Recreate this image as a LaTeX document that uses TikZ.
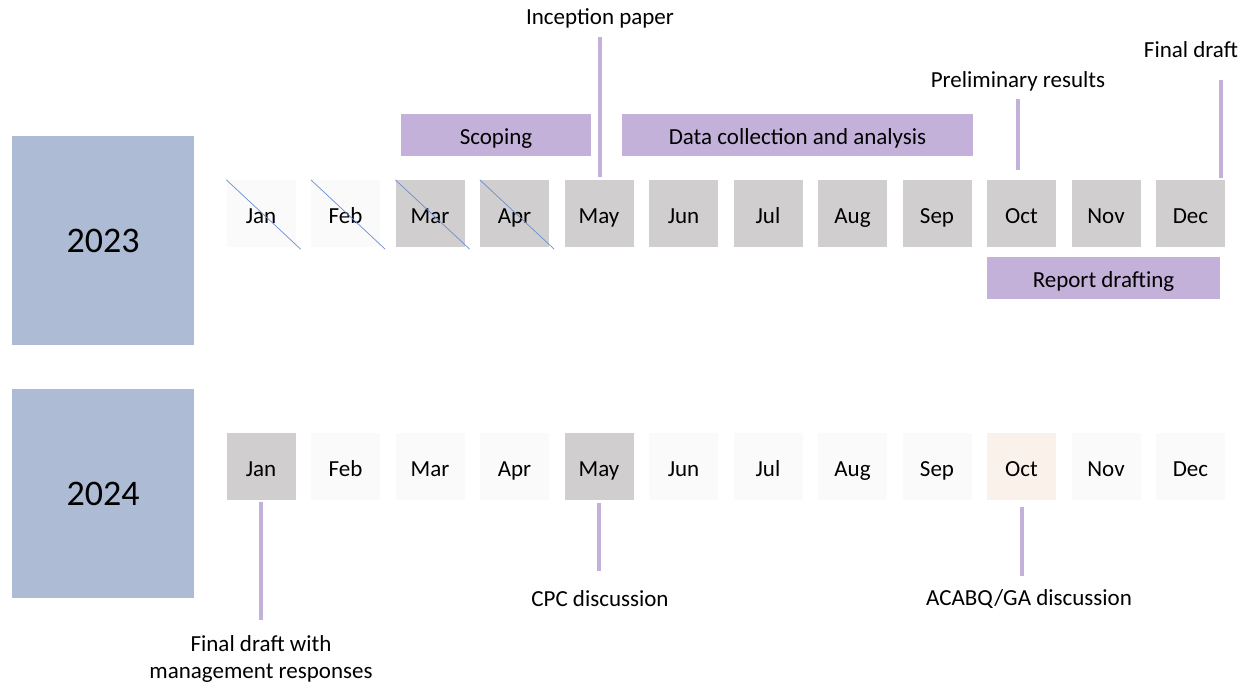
\documentclass[tikz,border=0pt]{standalone}
\usepackage{fontspec}
\setmainfont{Carlito}
\usetikzlibrary{positioning}
\definecolor{yearblue}{HTML}{ADBCD4}
\definecolor{monthgrey}{HTML}{D0CECE}
\definecolor{monthpale}{HTML}{FAFAFA}
\definecolor{monthpeach}{HTML}{FBF1EB}
\definecolor{phase}{HTML}{C3B1D9}
\definecolor{strikeblue}{HTML}{4472C4}
\tikzset{
  yearbox/.style={fill=yearblue,minimum width=182pt,minimum height=209pt,inner sep=0pt,font=\fontsize{36}{40}\selectfont},
  monthbox/.style={minimum width=69pt,minimum height=67pt,inner sep=0pt,text height=21pt,text depth=2pt,font=\fontsize{23}{26}\selectfont},
  phasebox/.style={fill=phase,minimum height=42pt,inner sep=0pt,text height=21pt,text depth=2pt,font=\fontsize{23}{26}\selectfont},
  eventtext/.style={inner sep=0pt,align=center,font=\fontsize{23}{27}\selectfont},
  eventline/.style={draw=phase,line width=4pt},
  strikeline/.style={draw=strikeblue!80,line width=0.7pt}
}

\begin{document}
\begin{tikzpicture}[x=1pt,y=-1pt]
\useasboundingbox (0,0) rectangle (1250,685);
% years
\node (y23) [yearbox] at (103,240.5) {2023};
\node (y24) [yearbox] at (103,493.5) {2024};
% months of 2023
\foreach \m/\c [count=\i] in {Jan/monthpale,Feb/monthpale,Mar/monthgrey,Apr/monthgrey,May/monthgrey,Jun/monthgrey,Jul/monthgrey,Aug/monthgrey,Sep/monthgrey,Oct/monthgrey,Nov/monthgrey,Dec/monthgrey}
  \node (m23-\i) [monthbox,fill=\c] at ({261+84.5*(\i-1)},213.5) {\m};
% months of 2024
\foreach \m/\c [count=\i] in {Jan/monthgrey,Feb/monthpale,Mar/monthpale,Apr/monthpale,May/monthgrey,Jun/monthpale,Jul/monthpale,Aug/monthpale,Sep/monthpale,Oct/monthpeach,Nov/monthpale,Dec/monthpale}
  \node (m24-\i) [monthbox,fill=\c] at ({261+84.5*(\i-1)},466.5) {\m};
% months already gone
\foreach \i in {1,...,4}
  \draw[strikeline] (m23-\i.north west) -- ([shift={(5,2)}]m23-\i.south east);
%
\node (scoping) [phasebox,minimum width=190pt] at (496,135) {Scoping};
\node (datacoll) [phasebox,minimum width=351pt] at (797.5,135) {Data collection and analysis};
\node (drafting) [phasebox,minimum width=233pt] at (1103.5,278) {Report drafting};
%
\node (incep) [eventtext] at (600,18) {Inception paper};
\node (prelim) [eventtext] at (1018,81) {Preliminary results};
\node (final) [eventtext] at (1191,50) {Final draft};
\coordinate (finaltop) at (1221,80);
\path[eventline,shorten <=9pt,shorten >=3pt] (incep.south) -- (incep.south |- m23-5.north);
\path[eventline,shorten <=8pt,shorten >=10pt] (prelim.south) -- (prelim.south |- m23-10.north);
\path[eventline,shorten >=2pt] (finaltop) -- (finaltop |- m23-12.north);
%
\node (fdmr) [eventtext] at (261,659) {Final draft with\\management responses};
\node (cpc) [eventtext] at (600,599) {CPC discussion};
\node (acabq) [eventtext] at (1029,599) {ACABQ/GA discussion};
\path[eventline,shorten <=2pt] (m24-1.south) -- (m24-1.south |- 0,620);
\path[eventline,shorten <=3pt] (m24-5.south) -- (m24-5.south |- 0,571);
\path[eventline,shorten <=7pt] (m24-10.south) -- (m24-10.south |- 0,576);
\end{tikzpicture}
\end{document}
